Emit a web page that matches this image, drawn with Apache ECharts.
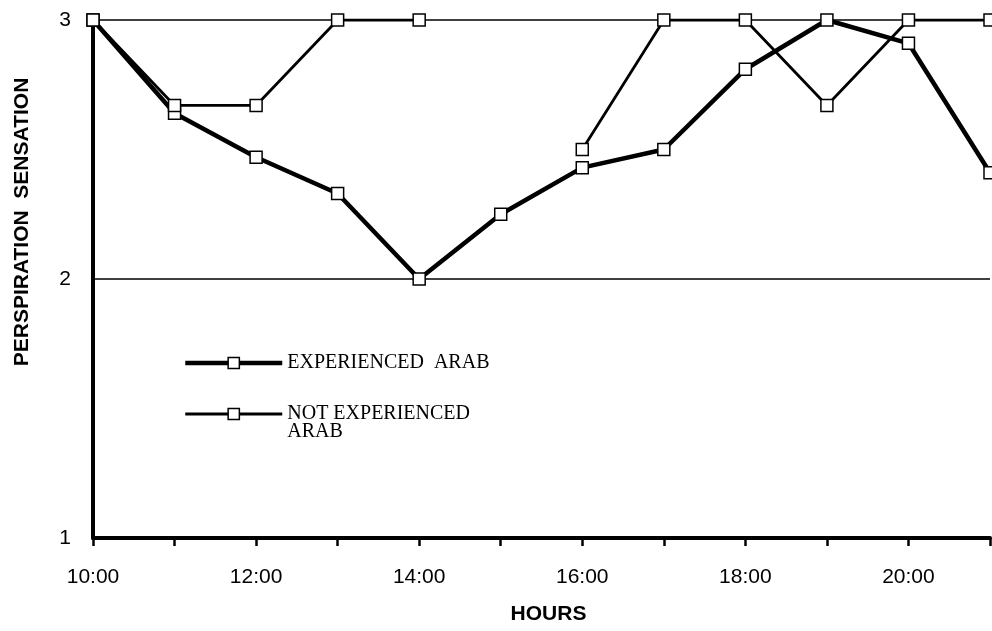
<!DOCTYPE html>
<html>
<head>
<meta charset="utf-8">
<script src="https://cdn.jsdelivr.net/npm/echarts@6/dist/echarts.min.js"></script>
<style>
html,body{margin:0;padding:0;background:#fff;}
#chart{width:992px;height:631px;}
</style>
</head>
<body>
<div id="chart"></div>
<script>
const hours = ['10:00','11:00','12:00','13:00','14:00','15:00','16:00','17:00','18:00','19:00','20:00','21:00'];
const experienced = [3, 2.64, 2.47, 2.33, 2.0, 2.25, 2.43, 2.5, 2.81, 3, 2.91, 2.41];
const notExperienced = [3, 2.67, 2.67, 3, 3, null, 2.5, 3, 3, 2.67, 3, 3];
const seriesNames = ['EXPERIENCED  ARAB', 'NOT EXPERIENCED\nARAB'];
const yTicks = [1, 2, 3];

const chart = echarts.init(document.getElementById('chart'), null, {renderer: 'canvas'});
const sans = 'Liberation Sans, Arial, sans-serif';
const serif = 'Liberation Serif, Times New Roman, serif';
const markerStyle = {color: '#fff', borderColor: '#000', borderWidth: 1.5};
const expLine = {color: '#000', width: 4.5};
const notExpLine = {color: '#000', width: 2.8};
const option = {
  animation: false,
  backgroundColor: '#fff',
  grid: {left: 93, right: 2, top: 20, bottom: 93, containLabel: false},
  legend: {
    orient: 'vertical',
    left: 183,
    top: 353,
    padding: 0,
    itemWidth: 97,
    itemHeight: 14,
    itemGap: 13,
    selectedMode: false,
    data: [
      {name: seriesNames[0], lineStyle: expLine, itemStyle: markerStyle},
      {name: seriesNames[1], lineStyle: notExpLine, itemStyle: markerStyle}
    ],
    formatter: function (name) { return name === seriesNames[1] ? '\n' + name : name; },
    textStyle: {fontFamily: serif, fontSize: 20, color: '#000', lineHeight: 18}
  },
  xAxis: {
    type: 'category',
    data: hours,
    boundaryGap: false,
    name: 'HOURS',
    nameLocation: 'middle',
    nameGap: 66,
    nameTextStyle: {fontFamily: sans, fontSize: 21, fontWeight: 'bold', color: '#000', padding: [0, 0, 0, 14]},
    axisLine: {show: true, lineStyle: {color: '#000', width: 4}},
    axisTick: {show: true, interval: 0, length: 8, lineStyle: {color: '#000', width: 2.5}},
    axisLabel: {interval: 1, margin: 29, fontFamily: sans, fontSize: 21, color: '#000'},
    splitLine: {show: false}
  },
  yAxis: {
    type: 'value',
    min: yTicks[0],
    max: yTicks[yTicks.length - 1],
    interval: 1,
    name: 'PERSPIRATION  SENSATION',
    nameLocation: 'middle',
    nameRotate: 90,
    nameGap: 60,
    nameTextStyle: {fontFamily: sans, fontSize: 21, fontWeight: 'bold', color: '#000', padding: [0, 0, 0, 114]},
    axisLine: {show: true, lineStyle: {color: '#000', width: 4}},
    axisTick: {show: false},
    axisLabel: {margin: 22, fontFamily: sans, fontSize: 21, color: '#000'},
    splitLine: {show: true, lineStyle: {color: '#000', width: 1.5}}
  },
  series: [
    {
      name: seriesNames[0],
      type: 'line',
      data: experienced,
      symbol: 'rect',
      symbolSize: 12,
      lineStyle: expLine,
      itemStyle: markerStyle,
      z: 3
    },
    {
      name: seriesNames[1],
      type: 'line',
      data: notExperienced,
      connectNulls: false,
      symbol: 'rect',
      symbolSize: 12,
      lineStyle: notExpLine,
      itemStyle: markerStyle,
      z: 4
    }
  ]
};
chart.setOption(option);
</script>
</body>
</html>
